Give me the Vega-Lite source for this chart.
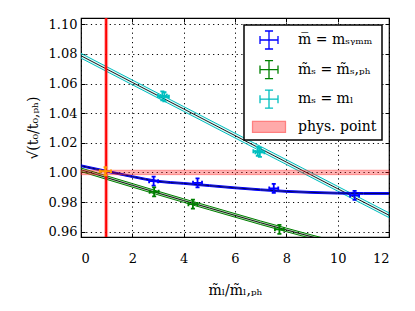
{
  "$schema": "https://vega.github.io/schema/vega-lite/v6.json",
  "width": 308,
  "height": 219,
  "autosize": {"type": "none"},
  "padding": {"left": 81, "top": 18, "right": 26, "bottom": 74},
  "background": "white",
  "datasets": {
    "fits": [
      {"fit": "blue", "x": 0, "y": 1.0045, "lo": 1.0039, "hi": 1.0051},
      {"fit": "blue", "x": 1, "y": 1.0008, "lo": 1.0002, "hi": 1.0014},
      {"fit": "blue", "x": 2, "y": 0.9972, "lo": 0.9966, "hi": 0.9978},
      {"fit": "blue", "x": 3, "y": 0.9940, "lo": 0.9934, "hi": 0.9946},
      {"fit": "blue", "x": 4, "y": 0.9926, "lo": 0.9920, "hi": 0.9932},
      {"fit": "blue", "x": 5, "y": 0.9911, "lo": 0.9905, "hi": 0.9917},
      {"fit": "blue", "x": 6, "y": 0.9896, "lo": 0.9890, "hi": 0.9902},
      {"fit": "blue", "x": 7, "y": 0.9883, "lo": 0.9877, "hi": 0.9889},
      {"fit": "blue", "x": 8, "y": 0.9872, "lo": 0.9866, "hi": 0.9878},
      {"fit": "blue", "x": 9, "y": 0.9865, "lo": 0.9859, "hi": 0.9871},
      {"fit": "blue", "x": 10, "y": 0.9860, "lo": 0.9854, "hi": 0.9866},
      {"fit": "blue", "x": 11, "y": 0.9858, "lo": 0.9852, "hi": 0.9864},
      {"fit": "blue", "x": 12, "y": 0.9858, "lo": 0.9852, "hi": 0.9864},
      {"fit": "green", "x": 0, "y": 1.0018, "lo": 1.0006, "hi": 1.0030},
      {"fit": "green", "x": 1, "y": 0.9965, "lo": 0.9953, "hi": 0.9977},
      {"fit": "green", "x": 2, "y": 0.9913, "lo": 0.9901, "hi": 0.9925},
      {"fit": "green", "x": 3, "y": 0.9861, "lo": 0.9849, "hi": 0.9873},
      {"fit": "green", "x": 4, "y": 0.9810, "lo": 0.9798, "hi": 0.9822},
      {"fit": "green", "x": 5, "y": 0.9760, "lo": 0.9748, "hi": 0.9772},
      {"fit": "green", "x": 6, "y": 0.9710, "lo": 0.9698, "hi": 0.9722},
      {"fit": "green", "x": 7, "y": 0.9660, "lo": 0.9648, "hi": 0.9672},
      {"fit": "green", "x": 8, "y": 0.9612, "lo": 0.9600, "hi": 0.9624},
      {"fit": "green", "x": 9, "y": 0.9565, "lo": 0.9553, "hi": 0.9577},
      {"fit": "green", "x": 10, "y": 0.9520, "lo": 0.9508, "hi": 0.9532},
      {"fit": "cyan", "x": 0, "y": 1.0788, "lo": 1.0772, "hi": 1.0804},
      {"fit": "cyan", "x": 2, "y": 1.0608, "lo": 1.0592, "hi": 1.0624},
      {"fit": "cyan", "x": 4, "y": 1.0429, "lo": 1.0413, "hi": 1.0445},
      {"fit": "cyan", "x": 6, "y": 1.0249, "lo": 1.0233, "hi": 1.0265},
      {"fit": "cyan", "x": 8, "y": 1.0070, "lo": 1.0054, "hi": 1.0086},
      {"fit": "cyan", "x": 10, "y": 0.9890, "lo": 0.9874, "hi": 0.9906},
      {"fit": "cyan", "x": 12, "y": 0.9711, "lo": 0.9695, "hi": 0.9727}
    ],
    "points": [
      {"series": "m̅ = mₛᵧₘₘ", "x": 2.83, "y": 0.9941},
      {"series": "m̅ = mₛᵧₘₘ", "x": 4.54, "y": 0.9930},
      {"series": "m̅ = mₛᵧₘₘ", "x": 7.51, "y": 0.9892},
      {"series": "m̅ = mₛᵧₘₘ", "x": 10.66, "y": 0.9845},
      {"series": "m̃ₛ = m̃ₛ,ₚₕ", "x": 2.85, "y": 0.9869},
      {"series": "m̃ₛ = m̃ₛ,ₚₕ", "x": 4.36, "y": 0.9786},
      {"series": "m̃ₛ = m̃ₛ,ₚₕ", "x": 7.73, "y": 0.9616},
      {"series": "mₛ = mₗ", "x": 3.17, "y": 1.0517},
      {"series": "mₛ = mₗ", "x": 3.25, "y": 1.0511},
      {"series": "mₛ = mₗ", "x": 6.89, "y": 1.0143},
      {"series": "mₛ = mₗ", "x": 6.97, "y": 1.0136}
    ],
    "phys": [
      {"x": 0.98, "xlo": 0.9, "xhi": 1.06, "y": 1.0, "ylo": 0.9985, "yhi": 1.0015, "px": 0.95, "py": 1.0008}
    ]
  },
  "config": {
    "view": {"stroke": "black", "strokeWidth": 1.2},
    "font": "DejaVu Serif",
    "axis": {
      "domain": false,
      "labelFont": "DejaVu Serif",
      "labelFontSize": 13,
      "labelColor": "black",
      "tickColor": "black",
      "tickSize": -4,
      "tickWidth": 1,
      "gridColor": "black",
      "gridDash": [1.2, 3.5],
      "gridOpacity": 1,
      "gridWidth": 1,
      "titleFont": "DejaVu Serif",
      "titleFontSize": 14,
      "titleFontWeight": "normal",
      "titleColor": "black"
    },
    "legend": {
      "orient": "top-right",
      "offset": 7,
      "strokeColor": "black",
      "strokeWidth": 1.5,
      "fillColor": "white",
      "padding": 5,
      "symbolSize": 324,
      "symbolStrokeWidth": 1.3,
      "labelFont": "DejaVu Serif",
      "labelFontSize": 14,
      "labelColor": "black",
      "labelLimit": 300,
      "rowPadding": 5.6,
      "symbolOffset": 10,
      "labelOffset": 19
    }
  },
  "layer": [
    {
      "data": {"name": "fits"},
      "transform": [{"filter": "datum.fit === 'cyan'"}],
      "mark": {"type": "area", "fill": "#00bfbf", "fillOpacity": 0.12, "stroke": "#00bfbf", "strokeWidth": 1, "clip": true},
      "encoding": {
        "x": {"field": "x", "type": "quantitative", "scale": {"domain": [0, 12], "nice": false},
              "axis": {"orient": "bottom", "values": [0, 2, 4, 6, 8, 10, 12], "grid": true, "labelPadding": 19, "title": "m̃ₗ/m̃ₗ,ₚₕ", "titlePadding": 18}},
        "y": {"field": "lo", "type": "quantitative", "scale": {"domain": [0.9564, 1.1043], "nice": false, "zero": false},
              "axis": {"orient": "left", "values": [0.96, 0.98, 1.0, 1.02, 1.04, 1.06, 1.08, 1.1], "format": ".2f", "grid": true, "labelPadding": 8, "title": "√(t₀/t₀,ₚₕ)", "titlePadding": 8}},
        "y2": {"field": "hi"}
      }
    },
    {
      "data": {"name": "fits"},
      "transform": [{"filter": "datum.fit === 'cyan'"}],
      "mark": {"type": "line", "color": "black", "strokeWidth": 0.9, "clip": true},
      "encoding": {
        "x": {"field": "x", "type": "quantitative", "axis": {"orient": "top", "values": [0, 2, 4, 6, 8, 10, 12], "labels": false, "grid": false, "title": null}},
        "y": {"field": "y", "type": "quantitative", "axis": {"orient": "right", "values": [0.96, 0.98, 1.0, 1.02, 1.04, 1.06, 1.08, 1.1], "labels": false, "grid": false, "title": null}}
      }
    },
    {
      "data": {"name": "fits"},
      "transform": [{"filter": "datum.fit === 'green'"}],
      "mark": {"type": "area", "fill": "#008000", "fillOpacity": 0.25, "stroke": "#008000", "strokeWidth": 1, "clip": true},
      "encoding": {
        "x": {"field": "x", "type": "quantitative", "axis": null},
        "y": {"field": "lo", "type": "quantitative", "axis": null},
        "y2": {"field": "hi"}
      }
    },
    {
      "data": {"name": "fits"},
      "transform": [{"filter": "datum.fit === 'green'"}],
      "mark": {"type": "line", "color": "black", "strokeWidth": 0.9, "clip": true},
      "encoding": {
        "x": {"field": "x", "type": "quantitative", "axis": null},
        "y": {"field": "y", "type": "quantitative", "axis": null}
      }
    },
    {
      "data": {"name": "fits"},
      "transform": [{"filter": "datum.fit === 'blue'"}],
      "mark": {"type": "area", "fill": "#0000ff", "fillOpacity": 0.6, "stroke": "#0000ff", "strokeWidth": 1, "clip": true, "interpolate": "monotone"},
      "encoding": {
        "x": {"field": "x", "type": "quantitative", "axis": null},
        "y": {"field": "lo", "type": "quantitative", "axis": null},
        "y2": {"field": "hi"}
      }
    },
    {
      "data": {"name": "fits"},
      "transform": [{"filter": "datum.fit === 'blue'"}],
      "mark": {"type": "line", "color": "#000060", "strokeWidth": 1, "clip": true, "interpolate": "monotone"},
      "encoding": {
        "x": {"field": "x", "type": "quantitative", "axis": null},
        "y": {"field": "y", "type": "quantitative", "axis": null}
      }
    },
    {
      "data": {"name": "phys"},
      "mark": {"type": "rect", "fill": "#ff0000", "fillOpacity": 0.3, "stroke": "#ff4040", "strokeOpacity": 0.6, "strokeWidth": 0.8},
      "encoding": {
        "y": {"field": "ylo", "type": "quantitative", "axis": null},
        "y2": {"field": "yhi"}
      }
    },
    {
      "data": {"name": "phys"},
      "mark": {"type": "rect", "fill": "#ff0000", "fillOpacity": 0.3},
      "encoding": {
        "x": {"field": "xlo", "type": "quantitative", "axis": null},
        "x2": {"field": "xhi"}
      }
    },
    {
      "data": {"name": "phys"},
      "mark": {"type": "rule", "color": "#ff0000", "strokeWidth": 2},
      "encoding": {
        "x": {"field": "x", "type": "quantitative", "axis": null}
      }
    },
    {
      "data": {"name": "points"},
      "mark": {"type": "point", "filled": true, "opacity": 1, "strokeWidth": 1.8, "size": 81},
      "encoding": {
        "x": {"field": "x", "type": "quantitative", "axis": null},
        "y": {"field": "y", "type": "quantitative", "axis": null},
        "stroke": {"field": "series", "type": "nominal", "title": null,
          "scale": {"domain": ["m̅ = mₛᵧₘₘ", "m̃ₛ = m̃ₛ,ₚₕ", "mₛ = mₗ", "phys. point"], "range": ["#0000ff", "#008000", "#00bfbf", "#ff8080"]}},
        "fill": {"field": "series", "type": "nominal", "title": null,
          "scale": {"domain": ["m̅ = mₛᵧₘₘ", "m̃ₛ = m̃ₛ,ₚₕ", "mₛ = mₗ", "phys. point"], "range": ["transparent", "transparent", "transparent", "#ffaaaa"]}},
        "shape": {"field": "series", "type": "nominal", "title": null,
          "scale": {"domain": ["m̅ = mₛᵧₘₘ", "m̃ₛ = m̃ₛ,ₚₕ", "mₛ = mₗ", "phys. point"], "range": [
            "M-1,0H1M0,-1V1M-1,-0.45V0.45M1,-0.45V0.45M-0.45,-1H0.45M-0.45,1H0.45",
            "M-1,0H1M0,-1V1M-1,-0.45V0.45M1,-0.45V0.45M-0.45,-1H0.45M-0.45,1H0.45",
            "M-1,0H1M0,-1V1M-1,-0.45V0.45M1,-0.45V0.45M-0.45,-1H0.45M-0.45,1H0.45",
            "M-1.83,-0.61H1.83V0.61H-1.83Z"]}}
      }
    },
    {
      "data": {"name": "phys"},
      "mark": {"type": "point", "shape": "M-1.4,0H1.4M0,-1V1M-1.4,-0.45V0.45M1.4,-0.45V0.45M-0.45,-1H0.45M-0.45,1H0.45", "filled": false, "opacity": 1, "color": "#ff9900", "strokeWidth": 2, "size": 64},
      "encoding": {
        "x": {"field": "px", "type": "quantitative", "axis": null},
        "y": {"field": "py", "type": "quantitative", "axis": null}
      }
    }
  ]
}
